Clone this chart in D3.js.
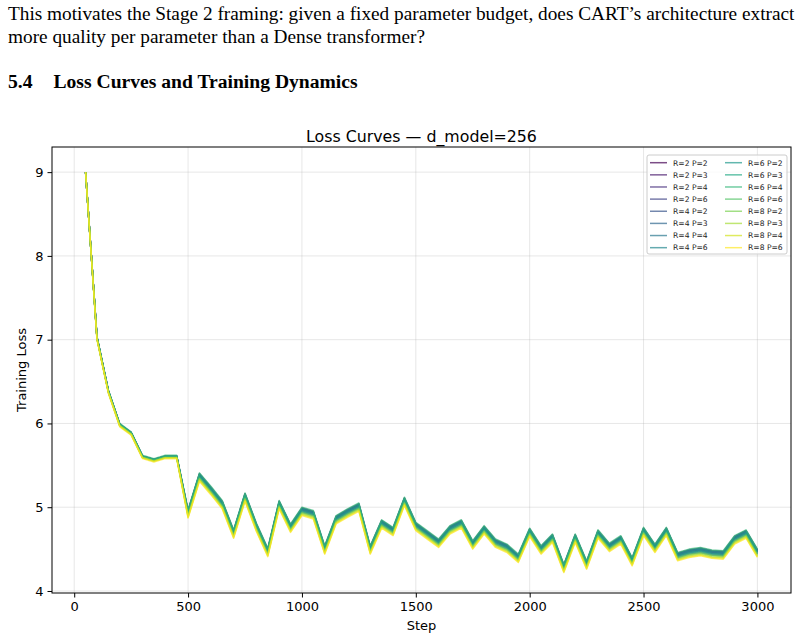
<!DOCTYPE html>
<html>
<head>
<meta charset="utf-8">
<script src="https://cdn.jsdelivr.net/npm/d3@7"></script>
<style>
  body { margin: 0; background: #fff; }
  .para { position: absolute; left: 8px; font-family: "Liberation Serif", "Times New Roman", serif; font-size: 19.3px; line-height: 23px; color: #000; white-space: nowrap; }
  .sec { position: absolute; left: 8px; top: 71px; font-family: "Liberation Serif", serif; font-size: 19.6px; font-weight: bold; white-space: nowrap; }
  .sec span { margin-left: 21px; }
  svg { position: absolute; left: 0; top: 0; }
  svg text { font-family: "DejaVu Sans", sans-serif; }
</style>
</head>
<body>
<div class="para" style="top:2px">This motivates the Stage 2 framing: given a fixed parameter budget, does CART’s architecture extract<br>more quality per parameter than a Dense transformer?</div>
<div class="sec">5.4<span>Loss Curves and Training Dynamics</span></div>
<div id="chart"></div>
<script>
const steps = d3.range(50, 3001, 50);
const seriesLabels = ["R=2 P=2","R=2 P=3","R=2 P=4","R=2 P=6","R=4 P=2","R=4 P=3","R=4 P=4","R=4 P=6",
                      "R=6 P=2","R=6 P=3","R=6 P=4","R=6 P=6","R=8 P=2","R=8 P=3","R=8 P=4","R=8 P=6"];
const xTicks = [0, 500, 1000, 1500, 2000, 2500, 3000];
const yTicks = [4, 5, 6, 7, 8, 9];

const lossR2P2 = [9.00,7.03,6.39,5.99,5.89,5.61,5.57,5.61,5.61,4.96,5.40,5.24,5.07,4.72,5.16,4.80,4.50,5.07,4.79,4.99,4.95,4.53,4.89,4.97,5.04,4.53,4.84,4.75,5.11,4.81,4.71,4.61,4.77,4.84,4.59,4.77,4.61,4.55,4.43,4.74,4.53,4.67,4.31,4.67,4.35,4.72,4.56,4.65,4.39,4.75,4.55,4.75,4.45,4.49,4.51,4.48,4.47,4.65,4.72,4.49];
const lossR2P3 = [9.00,7.03,6.39,5.99,5.89,5.61,5.57,5.61,5.61,4.95,5.39,5.23,5.06,4.71,5.15,4.79,4.49,5.06,4.78,4.98,4.94,4.52,4.88,4.96,5.03,4.52,4.83,4.74,5.10,4.80,4.70,4.60,4.76,4.83,4.58,4.76,4.60,4.54,4.42,4.73,4.52,4.66,4.30,4.66,4.34,4.71,4.55,4.64,4.38,4.74,4.54,4.74,4.44,4.48,4.50,4.47,4.46,4.64,4.71,4.48];
const lossR2P4 = [9.00,7.02,6.38,5.98,5.88,5.60,5.56,5.60,5.60,4.93,5.37,5.21,5.04,4.69,5.13,4.77,4.47,5.04,4.76,4.96,4.92,4.50,4.86,4.94,5.01,4.50,4.81,4.72,5.08,4.78,4.68,4.58,4.74,4.81,4.56,4.74,4.58,4.52,4.40,4.71,4.50,4.64,4.28,4.64,4.32,4.69,4.53,4.62,4.36,4.72,4.52,4.72,4.42,4.46,4.48,4.45,4.44,4.62,4.69,4.46];
const lossR2P6 = [9.00,7.02,6.38,5.98,5.88,5.60,5.56,5.60,5.60,4.91,5.35,5.19,5.02,4.67,5.11,4.75,4.45,5.02,4.74,4.94,4.90,4.48,4.84,4.92,4.99,4.48,4.79,4.70,5.06,4.76,4.66,4.56,4.72,4.79,4.54,4.72,4.56,4.50,4.38,4.69,4.48,4.62,4.26,4.62,4.30,4.67,4.51,4.60,4.34,4.70,4.50,4.70,4.40,4.44,4.46,4.43,4.42,4.60,4.67,4.44];
const lossR4P2 = [9.00,7.03,6.39,5.99,5.89,5.61,5.57,5.61,5.61,4.94,5.38,5.22,5.05,4.70,5.14,4.78,4.48,5.05,4.77,4.97,4.93,4.51,4.87,4.95,5.02,4.51,4.82,4.73,5.09,4.79,4.69,4.59,4.75,4.82,4.57,4.75,4.59,4.53,4.41,4.72,4.51,4.65,4.29,4.65,4.33,4.70,4.54,4.63,4.37,4.73,4.53,4.73,4.43,4.47,4.49,4.46,4.45,4.63,4.70,4.47];
const lossR4P3 = [9.00,7.03,6.39,5.99,5.89,5.61,5.57,5.61,5.61,4.94,5.38,5.22,5.05,4.70,5.14,4.78,4.48,5.05,4.77,4.97,4.93,4.51,4.87,4.95,5.02,4.51,4.82,4.73,5.09,4.79,4.69,4.59,4.75,4.82,4.57,4.75,4.59,4.53,4.41,4.72,4.51,4.65,4.29,4.65,4.33,4.70,4.54,4.63,4.37,4.73,4.53,4.73,4.43,4.47,4.49,4.46,4.45,4.63,4.70,4.47];
const lossR4P4 = [9.00,7.03,6.39,5.99,5.89,5.61,5.57,5.61,5.61,4.96,5.40,5.24,5.07,4.72,5.16,4.80,4.50,5.07,4.79,4.99,4.95,4.53,4.89,4.97,5.04,4.53,4.84,4.75,5.11,4.81,4.71,4.61,4.77,4.84,4.59,4.77,4.61,4.55,4.43,4.74,4.53,4.67,4.31,4.67,4.35,4.72,4.56,4.65,4.39,4.75,4.55,4.75,4.45,4.49,4.51,4.48,4.47,4.65,4.72,4.49];
const lossR4P6 = [9.00,7.02,6.38,5.98,5.88,5.60,5.56,5.60,5.60,4.92,5.36,5.20,5.03,4.68,5.12,4.76,4.46,5.03,4.75,4.95,4.91,4.49,4.85,4.93,5.00,4.49,4.80,4.71,5.07,4.77,4.67,4.57,4.73,4.80,4.55,4.73,4.57,4.51,4.39,4.70,4.49,4.63,4.27,4.63,4.31,4.68,4.52,4.61,4.35,4.71,4.51,4.71,4.41,4.45,4.47,4.44,4.43,4.61,4.68,4.45];
const lossR6P2 = [9.00,7.03,6.39,5.99,5.89,5.61,5.57,5.61,5.61,4.95,5.39,5.23,5.06,4.71,5.15,4.79,4.49,5.06,4.78,4.98,4.94,4.52,4.88,4.96,5.03,4.52,4.83,4.74,5.10,4.80,4.70,4.60,4.76,4.83,4.58,4.76,4.60,4.54,4.42,4.73,4.52,4.66,4.30,4.66,4.34,4.71,4.55,4.64,4.38,4.74,4.54,4.74,4.44,4.48,4.50,4.47,4.46,4.64,4.71,4.48];
const lossR6P3 = [9.00,7.02,6.38,5.98,5.88,5.60,5.56,5.60,5.60,4.93,5.37,5.21,5.04,4.69,5.13,4.77,4.47,5.04,4.76,4.96,4.92,4.50,4.86,4.94,5.01,4.50,4.81,4.72,5.08,4.78,4.68,4.58,4.74,4.81,4.56,4.74,4.58,4.52,4.40,4.71,4.50,4.64,4.28,4.64,4.32,4.69,4.53,4.62,4.36,4.72,4.52,4.72,4.42,4.46,4.48,4.45,4.44,4.62,4.69,4.46];
const lossR6P4 = [9.00,7.04,6.40,6.00,5.90,5.62,5.58,5.62,5.62,4.97,5.41,5.25,5.08,4.73,5.17,4.81,4.51,5.08,4.80,5.00,4.96,4.54,4.90,4.98,5.05,4.54,4.85,4.76,5.12,4.82,4.72,4.62,4.78,4.85,4.60,4.78,4.62,4.56,4.44,4.75,4.54,4.68,4.32,4.68,4.36,4.73,4.57,4.66,4.40,4.76,4.56,4.76,4.46,4.50,4.52,4.49,4.48,4.66,4.73,4.50];
const lossR6P6 = [9.00,7.02,6.38,5.98,5.88,5.60,5.56,5.60,5.60,4.91,5.35,5.19,5.02,4.67,5.11,4.75,4.45,5.02,4.74,4.94,4.90,4.48,4.84,4.92,4.99,4.48,4.79,4.70,5.06,4.76,4.66,4.56,4.72,4.79,4.54,4.72,4.56,4.50,4.38,4.69,4.48,4.62,4.26,4.62,4.30,4.67,4.51,4.60,4.34,4.70,4.50,4.70,4.40,4.44,4.46,4.43,4.42,4.60,4.67,4.44];
const lossR8P2 = [9.00,7.01,6.37,5.97,5.87,5.59,5.55,5.59,5.59,4.90,5.34,5.18,5.01,4.66,5.10,4.74,4.44,5.01,4.73,4.93,4.89,4.47,4.83,4.91,4.98,4.47,4.78,4.69,5.05,4.75,4.65,4.55,4.71,4.78,4.53,4.71,4.55,4.49,4.37,4.68,4.47,4.61,4.25,4.61,4.29,4.66,4.50,4.59,4.33,4.69,4.49,4.69,4.39,4.43,4.45,4.42,4.41,4.59,4.66,4.43];
const lossR8P3 = [9.00,7.01,6.37,5.97,5.87,5.59,5.55,5.59,5.59,4.89,5.33,5.17,5.00,4.65,5.09,4.73,4.43,5.00,4.72,4.92,4.88,4.46,4.82,4.90,4.97,4.46,4.77,4.68,5.04,4.74,4.64,4.54,4.70,4.77,4.52,4.70,4.54,4.48,4.36,4.67,4.46,4.60,4.24,4.60,4.28,4.65,4.49,4.58,4.32,4.68,4.48,4.68,4.38,4.42,4.44,4.41,4.40,4.58,4.65,4.42];
const lossR8P4 = [9.00,7.01,6.37,5.97,5.87,5.59,5.55,5.59,5.59,4.88,5.32,5.16,4.99,4.64,5.08,4.72,4.42,4.99,4.71,4.91,4.87,4.45,4.81,4.89,4.96,4.45,4.76,4.67,5.03,4.73,4.63,4.53,4.69,4.76,4.51,4.69,4.53,4.47,4.35,4.66,4.45,4.59,4.23,4.59,4.27,4.64,4.48,4.57,4.31,4.67,4.47,4.67,4.37,4.41,4.43,4.40,4.39,4.57,4.64,4.41];
const lossR8P6 = [9.00,7.00,6.36,5.96,5.86,5.58,5.54,5.58,5.58,4.87,5.31,5.15,4.98,4.63,5.07,4.71,4.41,4.98,4.70,4.90,4.86,4.44,4.80,4.88,4.95,4.44,4.75,4.66,5.02,4.72,4.62,4.52,4.68,4.75,4.50,4.68,4.52,4.46,4.34,4.65,4.44,4.58,4.22,4.58,4.26,4.63,4.47,4.56,4.30,4.66,4.46,4.66,4.36,4.40,4.42,4.39,4.38,4.56,4.63,4.40];

const lossSeries = [lossR2P2, lossR2P3, lossR2P4, lossR2P6, lossR4P2, lossR4P3, lossR4P4, lossR4P6,
                    lossR6P2, lossR6P3, lossR6P4, lossR6P6, lossR8P2, lossR8P3, lossR8P4, lossR8P6];

const width = 805, height = 639;
const plot = { left: 52, right: 791, top: 147, bottom: 593 };

const svg = d3.select("#chart").append("svg")
  .attr("width", width).attr("height", height);

const x = d3.scaleLinear().domain([-97.5, 3147.5]).range([plot.left, plot.right]);
const y = d3.scaleLinear().domain([3.976, 9.3]).range([plot.bottom, plot.top]);
const color = (i) => d3.interpolateViridis(i / (seriesLabels.length - 1));

// grid
svg.append("g").selectAll("line").data(xTicks).enter().append("line")
  .attr("x1", (d) => x(d)).attr("x2", (d) => x(d))
  .attr("y1", plot.top).attr("y2", plot.bottom)
  .attr("stroke", "#b0b0b0").attr("stroke-opacity", 0.3).attr("stroke-width", 1);
svg.append("g").selectAll("line").data(yTicks).enter().append("line")
  .attr("x1", plot.left).attr("x2", plot.right)
  .attr("y1", (d) => y(d)).attr("y2", (d) => y(d))
  .attr("stroke", "#b0b0b0").attr("stroke-opacity", 0.3).attr("stroke-width", 1);

// lines
const line = d3.line().x((d, i) => x(steps[i])).y((d) => y(d));
svg.append("g").selectAll("path").data(lossSeries).enter().append("path")
  .attr("fill", "none")
  .attr("stroke", (d, i) => color(i))
  .attr("stroke-opacity", 0.7)
  .attr("stroke-width", 1.5)
  .attr("stroke-linejoin", "round")
  .attr("d", line);

// frame
svg.append("rect")
  .attr("x", plot.left).attr("y", plot.top)
  .attr("width", plot.right - plot.left).attr("height", plot.bottom - plot.top)
  .attr("fill", "none").attr("stroke", "#000").attr("stroke-width", 1);

// axes
const xAxis = svg.append("g").attr("transform", `translate(0,${plot.bottom})`)
  .call(d3.axisBottom(x).tickValues(xTicks).tickSize(4.5).tickPadding(4).tickFormat(d3.format("d")));
const yAxis = svg.append("g").attr("transform", `translate(${plot.left},0)`)
  .call(d3.axisLeft(y).tickValues(yTicks).tickSize(4.5).tickPadding(4).tickFormat(d3.format("d")));
[xAxis, yAxis].forEach((g) => {
  g.select(".domain").remove();
  g.selectAll("text").attr("font-size", 13).attr("fill", "#000").attr("font-family", "DejaVu Sans");
  g.selectAll("line").attr("stroke", "#000");
});

// titles
svg.append("text").attr("x", (plot.left + plot.right) / 2).attr("y", 142)
  .attr("text-anchor", "middle").attr("font-size", 15.8).text("Loss Curves — d_model=256");
svg.append("text").attr("x", (plot.left + plot.right) / 2).attr("y", 630)
  .attr("text-anchor", "middle").attr("font-size", 13).text("Step");
svg.append("text").attr("transform", `translate(26,${(plot.top + plot.bottom) / 2}) rotate(-90)`)
  .attr("text-anchor", "middle").attr("font-size", 13).text("Training Loss");

// legend
const legend = svg.append("g").attr("transform", "translate(647,155)");
legend.append("rect").attr("width", 140).attr("height", 99).attr("rx", 2)
  .attr("fill", "#fff").attr("fill-opacity", 0.8).attr("stroke", "#ccc").attr("stroke-width", 1);
const item = legend.selectAll(".item").data(seriesLabels).enter().append("g")
  .attr("transform", (d, i) => `translate(${i < 8 ? 3 : 78},${7.7 + (i % 8) * 12.14})`);
item.append("line").attr("x1", 0).attr("x2", 17)
  .attr("stroke", (d, i) => color(i)).attr("stroke-opacity", 0.7).attr("stroke-width", 1.5);
item.append("text").attr("x", 23).attr("y", 2.8).attr("font-size", 7.6).attr("fill", "#222").text((d) => d);
</script>
</body>
</html>
